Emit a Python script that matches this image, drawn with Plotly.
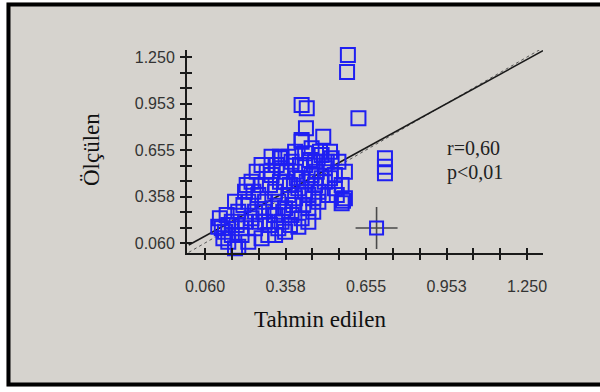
import numpy as np
import plotly.graph_objects as go

# ---- data ----
tahmin = [0.115, 0.122, 0.128, 0.171, 0.183, 0.146, 0.195, 0.208, 0.202, 0.232,
          0.251, 0.269, 0.306, 0.337, 0.368, 0.393, 0.417, 0.454, 0.491, 0.528,
          0.553, 0.577, 0.565, 0.577, 0.565, 0.516, 0.479, 0.442, 0.417, 0.405,
          0.356, 0.319, 0.269, 0.220, 0.183, 0.171, 0.140, 0.159,
          0.208, 0.245, 0.282, 0.319, 0.356, 0.393, 0.430, 0.467, 0.503, 0.540,
          0.245, 0.282, 0.319, 0.356, 0.393, 0.430, 0.467, 0.503, 0.540, 0.269,
          0.306, 0.343, 0.380, 0.417, 0.454, 0.491, 0.331, 0.368, 0.405, 0.442,
          0.479, 0.343, 0.380, 0.294, 0.331, 0.257, 0.220, 0.232, 0.195, 0.159,
          0.146, 0.288, 0.325, 0.362, 0.399, 0.436, 0.473, 0.510, 0.522, 0.547,
          0.460, 0.423, 0.386, 0.349, 0.312, 0.276, 0.263, 0.300, 0.374, 0.442,
          0.460, 0.214, 0.239, 0.300, 0.337, 0.374, 0.411, 0.448, 0.485, 0.522,
          0.430, 0.343, 0.177, 0.134, 0.109, 0.570,
          0.417, 0.436, 0.627, 0.433, 0.497, 0.417, 0.725, 0.725, 0.725,
          0.588, 0.585]
olculen = [0.218, 0.154, 0.090, 0.026, 0.036, 0.175, 0.111, 0.388, 0.303, 0.452,
           0.516, 0.559, 0.612, 0.612, 0.612, 0.644, 0.708, 0.666, 0.623, 0.602,
           0.580, 0.516, 0.431, 0.346, 0.314, 0.367, 0.324, 0.282, 0.218, 0.164,
           0.132, 0.111, 0.090, 0.068, 0.260, 0.324, 0.239, 0.196,
           0.196, 0.260, 0.324, 0.388, 0.452, 0.516, 0.559, 0.580, 0.538, 0.495,
           0.154, 0.196, 0.239, 0.282, 0.346, 0.388, 0.431, 0.452, 0.410, 0.431,
           0.495, 0.538, 0.580, 0.474, 0.495, 0.474, 0.324, 0.367, 0.410, 0.367,
           0.388, 0.196, 0.239, 0.111, 0.154, 0.367, 0.324, 0.218, 0.154, 0.111,
           0.068, 0.516, 0.559, 0.516, 0.474, 0.452, 0.516, 0.580, 0.474, 0.367,
           0.346, 0.303, 0.303, 0.260, 0.282, 0.260, 0.196, 0.175, 0.175, 0.196,
           0.260, 0.431, 0.388, 0.431, 0.452, 0.431, 0.559, 0.591, 0.644, 0.644,
           0.634, 0.602, 0.175, 0.132, 0.164, 0.330,
           0.943, 0.922, 0.858, 0.794, 0.740, 0.719, 0.602, 0.548, 0.506,
           1.263, 1.154]
marked_x = [0.694]
marked_y = [0.156]

tick_labels = ["0.060", "0.358", "0.655", "0.953", "1.250"]
tick_min, tick_max, n_tick_steps = 0.060, 1.250, 12
reg_intercept, reg_slope = 0.047, 0.95
line_x = [0.0, 1.309]
stats_text = ["r=0,60", "p<0,01"]

# ---- layout geometry (pixels) ----
W, H = 600, 392
L, R, T, B = 187, 57, 50, 139
pw, ph = W - L - R, H - T - B


def px(x):
    return (x - L) / pw


def py(y):
    return (H - B - y) / ph


tickvals = list(np.linspace(tick_min, tick_max, n_tick_steps + 1))
ticktext = [tick_labels[i // 3] if i % 3 == 0 else "" for i in range(len(tickvals))]

xr = [-0.0065, 1.309]
yr = [-0.004, 1.295]

blue = "#1f1ff2"
fig = go.Figure()

# identity (dotted) and regression line
fig.add_trace(go.Scatter(x=line_x, y=line_x, mode="lines",
                         line=dict(color="#555555", width=1, dash="dot"),
                         hoverinfo="skip", showlegend=False))
fig.add_trace(go.Scatter(x=line_x, y=[reg_intercept + reg_slope * v for v in line_x],
                         mode="lines", line=dict(color="#1a1a1a", width=1.6),
                         hoverinfo="skip", showlegend=False))

fig.add_trace(go.Scatter(x=tahmin, y=olculen, mode="markers", cliponaxis=False,
                         marker=dict(symbol="square-open", size=14, color=blue,
                                     line=dict(width=2, color=blue)),
                         showlegend=False))
# marked point: crosshair + square
fig.add_trace(go.Scatter(x=marked_x, y=marked_y, mode="markers",
                         marker=dict(symbol="cross-thin-open", size=30, color="#4a4a4a",
                                     line=dict(width=1.6, color="#4a4a4a")),
                         showlegend=False))
fig.add_trace(go.Scatter(x=marked_x, y=marked_y, mode="markers",
                         marker=dict(symbol="square-open", size=13, color=blue,
                                     line=dict(width=2, color=blue)),
                         showlegend=False))

tickfont = dict(family="Liberation Sans, Arial, sans-serif", size=16, color="#333333")
axis_common = dict(showgrid=False, zeroline=False, showline=True, linecolor="#1a1a1a",
                   linewidth=2, ticks="outside", ticklen=5, tickwidth=2,
                   tickcolor="#1a1a1a", tickmode="array", tickvals=tickvals,
                   ticktext=ticktext, tickfont=tickfont, fixedrange=True)

bg = "#d6d3ce"
fig.update_layout(
    width=W, height=H, margin=dict(l=L, r=R, t=T, b=B),
    paper_bgcolor=bg, plot_bgcolor="rgba(0,0,0,0)",
    xaxis=dict(range=xr, ticklabelstandoff=13, **axis_common),
    yaxis=dict(range=yr, ticklabelstandoff=2, **axis_common),
    xaxis2=dict(range=xr, overlaying="x", anchor="y", side="bottom", showgrid=False,
                zeroline=False, showline=False, ticks="inside", ticklen=5, tickwidth=2,
                tickcolor="#1a1a1a", tickmode="array", tickvals=tickvals,
                showticklabels=False, fixedrange=True),
    yaxis2=dict(range=yr, overlaying="y", anchor="x", side="left", showgrid=False,
                zeroline=False, showline=False, ticks="inside", ticklen=5, tickwidth=2,
                tickcolor="#1a1a1a", tickmode="array", tickvals=tickvals,
                showticklabels=False, fixedrange=True),
)
# dummy trace to activate overlay axes
fig.add_trace(go.Scatter(x=[None], y=[None], xaxis="x2", yaxis="y2", showlegend=False))

serif = "Liberation Serif, Times New Roman, serif"
fig.add_annotation(text="Tahmin edilen", xref="paper", yref="paper",
                   x=px(320), y=py(319), xanchor="center", yanchor="middle", showarrow=False,
                   font=dict(family=serif, size=23, color="#111111"))
fig.add_annotation(text="Ölçülen", xref="paper", yref="paper",
                   x=px(91), y=py(150), xanchor="center", yanchor="middle",
                   showarrow=False, textangle=-90,
                   font=dict(family=serif, size=23, color="#111111"))
fig.add_annotation(text=stats_text[0], x=0.947, y=0.668, xanchor="left", yanchor="middle",
                   showarrow=False, font=dict(family=serif, size=20, color="#222222"))
fig.add_annotation(text=stats_text[1], x=0.947, y=0.508, xanchor="left", yanchor="middle",
                   showarrow=False, font=dict(family=serif, size=20, color="#222222"))

# outer frame: white surround and black border
white_rects = [(0, 0, 6.5, H), (0, 0, W, 2.5), (0, 386.5, W, H)]
for x0, y0, x1, y1 in white_rects:
    fig.add_shape(type="rect", xref="paper", yref="paper", x0=px(x0), x1=px(x1),
                  y0=py(y0), y1=py(y1), fillcolor="white", line=dict(width=0), layer="above")
fig.add_shape(type="rect", xref="paper", yref="paper", x0=px(8.5), x1=px(615),
              y0=py(4.5), y1=py(384.5), line=dict(color="black", width=4), layer="above")

fig.write_html("out.html", config={"displayModeBar": False},
               post_script="document.body.style.margin='0';document.body.style.overflow='hidden';")
